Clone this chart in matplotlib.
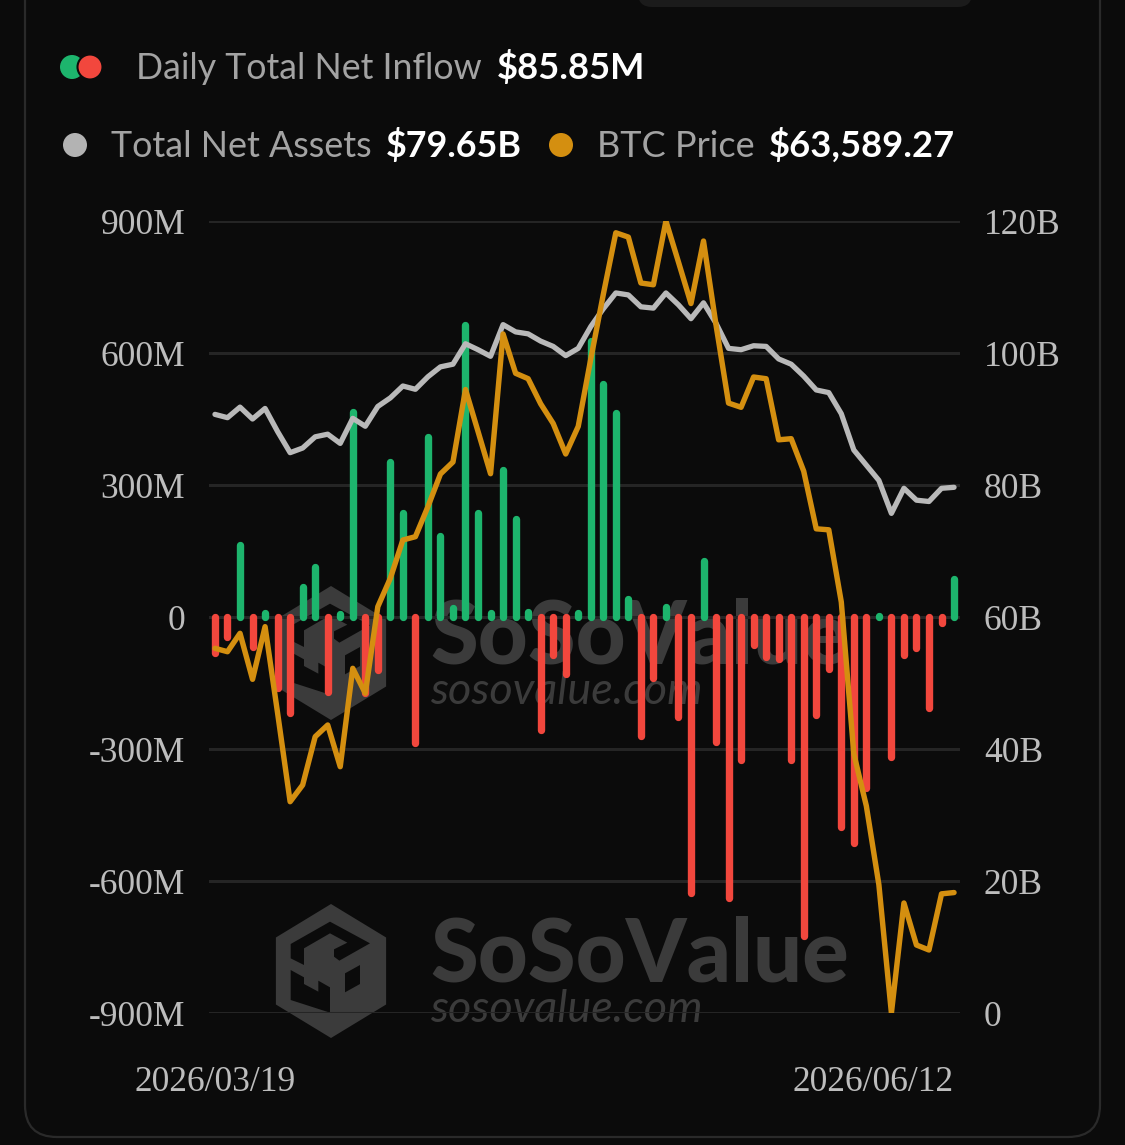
import matplotlib
matplotlib.use('Agg')
import numpy as np
import matplotlib.pyplot as plt
from matplotlib.patches import FancyBboxPatch, Circle, Polygon

W, H, DPI = 1125, 1145, 100

# ---- data ----
dateLabels = ['2026/03/19', '2026/06/12']

# daily total net inflow, million USD (one per trading day)
netInflow = [-82, -45, 164, -68, 8, -161, -218, 68, 114, -170,
             7, 466, -173, -120, 352, 236, -287, 408, 183, 20,
             664, 236, 10, 334, 222, 12, -257, -86, -130, 10,
             627, 529, 464, 42, -270, -138, 22, -227, -627, 127,
             -285, -639, -324, -64, -92, -95, -324, -726, -222, -119,
             -478, -514, -389, 2, -318, -86, -71, -207, -14, 85.85]

# total net assets, billion USD
netAssets = [90.7, 90.2, 91.8, 90.0, 91.6, 88.1, 84.9, 85.6, 87.3, 87.7,
             86.3, 90.1, 88.9, 91.9, 93.2, 95.0, 94.5, 96.4, 97.9, 98.3,
             101.4, 100.5, 99.5, 104.3, 103.2, 102.9, 101.8, 101.0, 99.6, 100.7,
             104.0, 106.7, 109.1, 108.8, 107.0, 106.8, 109.1, 107.3, 105.2, 107.6,
             104.5, 100.7, 100.5, 101.1, 101.0, 99.1, 98.3, 96.5, 94.4, 94.0,
             90.8, 85.3, 83.0, 80.7, 75.7, 79.5, 77.7, 77.5, 79.5, 79.65]

# BTC price, USD
btcPrice = [70867, 70766, 71314, 69943, 71512, 68939, 66296, 66794, 68233, 68582,
            67339, 70271, 69527, 72107, 72954, 74094, 74193, 75087, 76061, 76419,
            78579, 77330, 76070, 80235, 79062, 78901, 78153, 77566, 76657, 77480,
            79488, 81410, 83249, 83121, 81752, 81700, 83600, 82378, 81141, 83003,
            80501, 78174, 78049, 78951, 78900, 77080, 77113, 76145, 74428, 74398,
            72246, 67724, 66169, 63823, 60000, 63278, 62026, 61877, 63550, 63589.27]

leftTicks = [-900, -600, -300, 0, 300, 600, 900]
leftTickLabels = ['-900M', '-600M', '-300M', '0', '300M', '600M', '900M']
rightTicks = [0, 20, 40, 60, 80, 100, 120]
rightTickLabels = ['0', '20B', '40B', '60B', '80B', '100B', '120B']

# ---- colours ----
BG = '#0b0b0b'
GREEN = '#1db56d'
RED = '#f2473d'
ORANGE = '#d48f10'
GREY = '#b9b9b9'
TICK = '#bdbdbd'
WATER = '#3b3b3b'

fig = plt.figure(figsize=(W / DPI, H / DPI), dpi=DPI)
fig.patch.set_facecolor(BG)
renderer = fig.canvas.get_renderer()

# background layer in pixel coordinates (card, legend, watermark)
bg = fig.add_axes([0, 0, 1, 1], zorder=-1)
bg.set_xlim(0, W)
bg.set_ylim(H, 0)
bg.axis('off')

bg.add_patch(FancyBboxPatch((25, -60), 1075, 1197, boxstyle='round,pad=0,rounding_size=32',
                            fc=BG, ec='#2a2a2a', lw=1.6))
bg.add_patch(FancyBboxPatch((638, -30), 334, 37, boxstyle='round,pad=0,rounding_size=14',
                            fc='#1b1b1b', ec='none'))


def fit_text(x, y, s, width, size=20, **kw):
    t = bg.text(x, y, s, fontsize=size, **kw)
    w = t.get_window_extent(renderer).width
    t.set_fontsize(size * width / w)
    return t


# logo cut-outs, sketched on a 3x grid around the hexagon centre
logoCuts = [
    [(92, 162), (210, 95), (330, 160), (238, 212), (222, 200), (222, 178), (262, 158),
     (210, 130), (132, 175), (132, 225), (92, 205)],
    [(92, 240), (132, 262), (132, 282), (175, 305), (175, 272), (210, 292), (210, 368), (92, 330)],
    [(255, 250), (300, 225), (300, 282), (255, 307)],
]


def draw_watermark(cx, cy, textBase):
    r = 67
    ang = np.deg2rad([90, 30, -30, -90, -150, 150])
    hexPts = np.column_stack([cx + 0.95 * r * np.cos(ang), cy - r * np.sin(ang)])
    bg.add_patch(Polygon(hexPts, closed=True, fc=WATER, ec='none'))
    for cut in logoCuts:
        pts = [(cx + (px - 213) / 3.0, cy + (py - 243) / 3.0) for px, py in cut]
        bg.add_patch(Polygon(pts, closed=True, fc=BG, ec='none'))
    fit_text(430, textBase, 'SoSoValue', 420, family='Lato', weight='black', color=WATER)
    fit_text(430, textBase + 40, 'sosovalue.com', 272, family='Lato', style='italic', color=WATER)


draw_watermark(331, 653, 664)
draw_watermark(331, 971, 982)

# legend rows
LABEL = '#a3a3a3'
bg.add_patch(Circle((72, 67), 12, fc=GREEN, ec='none'))
bg.add_patch(Circle((90, 67), 12.5, fc=RED, ec=BG, lw=1.5))
fit_text(136, 79, 'Daily Total Net Inflow', 347, family='Lato', color=LABEL)
fit_text(497, 79, '$85.85M', 149, family='Lato', weight='bold', color='white')

bg.add_patch(Circle((75, 145), 12, fc='#b3b3b3', ec='none'))
fit_text(111, 157, 'Total Net Assets', 261, family='Lato', color=LABEL)
fit_text(386, 157, '$79.65B', 136, family='Lato', weight='bold', color='white')
bg.add_patch(Circle((561, 145), 12, fc=ORANGE, ec='none'))
fit_text(597, 157, 'BTC Price', 158, family='Lato', color=LABEL)
fit_text(769, 157, '$63,589.27', 186, family='Lato', weight='bold', color='white')

# ---- main chart ----
axL, axR, axT, axB = 208.7, 960.3, 221, 1013
ax = fig.add_axes([axL / W, (H - axB) / H, (axR - axL) / W, (axB - axT) / H])
ax.set_facecolor('none')

x = np.arange(len(netInflow))
barColors = [GREEN if v >= 0 else RED for v in netInflow]
bars = ax.vlines(x, 0, netInflow, colors=barColors, lw=5.3)
bars.set_capstyle('round')

ax.set_xlim(-0.5, len(x) - 0.5)
ax.set_ylim(-900, 900)
ax.set_yticks(leftTicks)
ax.set_yticklabels(leftTickLabels)
ax.yaxis.grid(True, color='#252525', lw=2.2)
ax.set_axisbelow(True)
ax.set_xticks([0, len(x) - 1])
ax.set_xticklabels(dateLabels)
ax.get_xticklabels()[1].set_ha('right')

ax2 = ax.twinx()
ax2.plot(x, netAssets, color=GREY, lw=3.8, solid_joinstyle='round', solid_capstyle='round')
ax2.set_ylim(0, 120)
ax2.set_yticks(rightTicks)
ax2.set_yticklabels(rightTickLabels)

ax3 = ax.twinx()
ax3.plot(x, btcPrice, color=ORANGE, lw=3.9, solid_joinstyle='round', solid_capstyle='round')
ax3.set_ylim(min(btcPrice), max(btcPrice))
ax3.axis('off')

for a in (ax, ax2):
    for sp in a.spines.values():
        sp.set_visible(False)
    a.tick_params(length=0, colors=TICK, labelsize=25.5, pad=17)
    for lbl in a.get_yticklabels() + a.get_xticklabels():
        lbl.set_family('Liberation Serif')
ax.tick_params(axis='x', pad=38)

fig.savefig('out.png', dpi=DPI, facecolor=BG)
